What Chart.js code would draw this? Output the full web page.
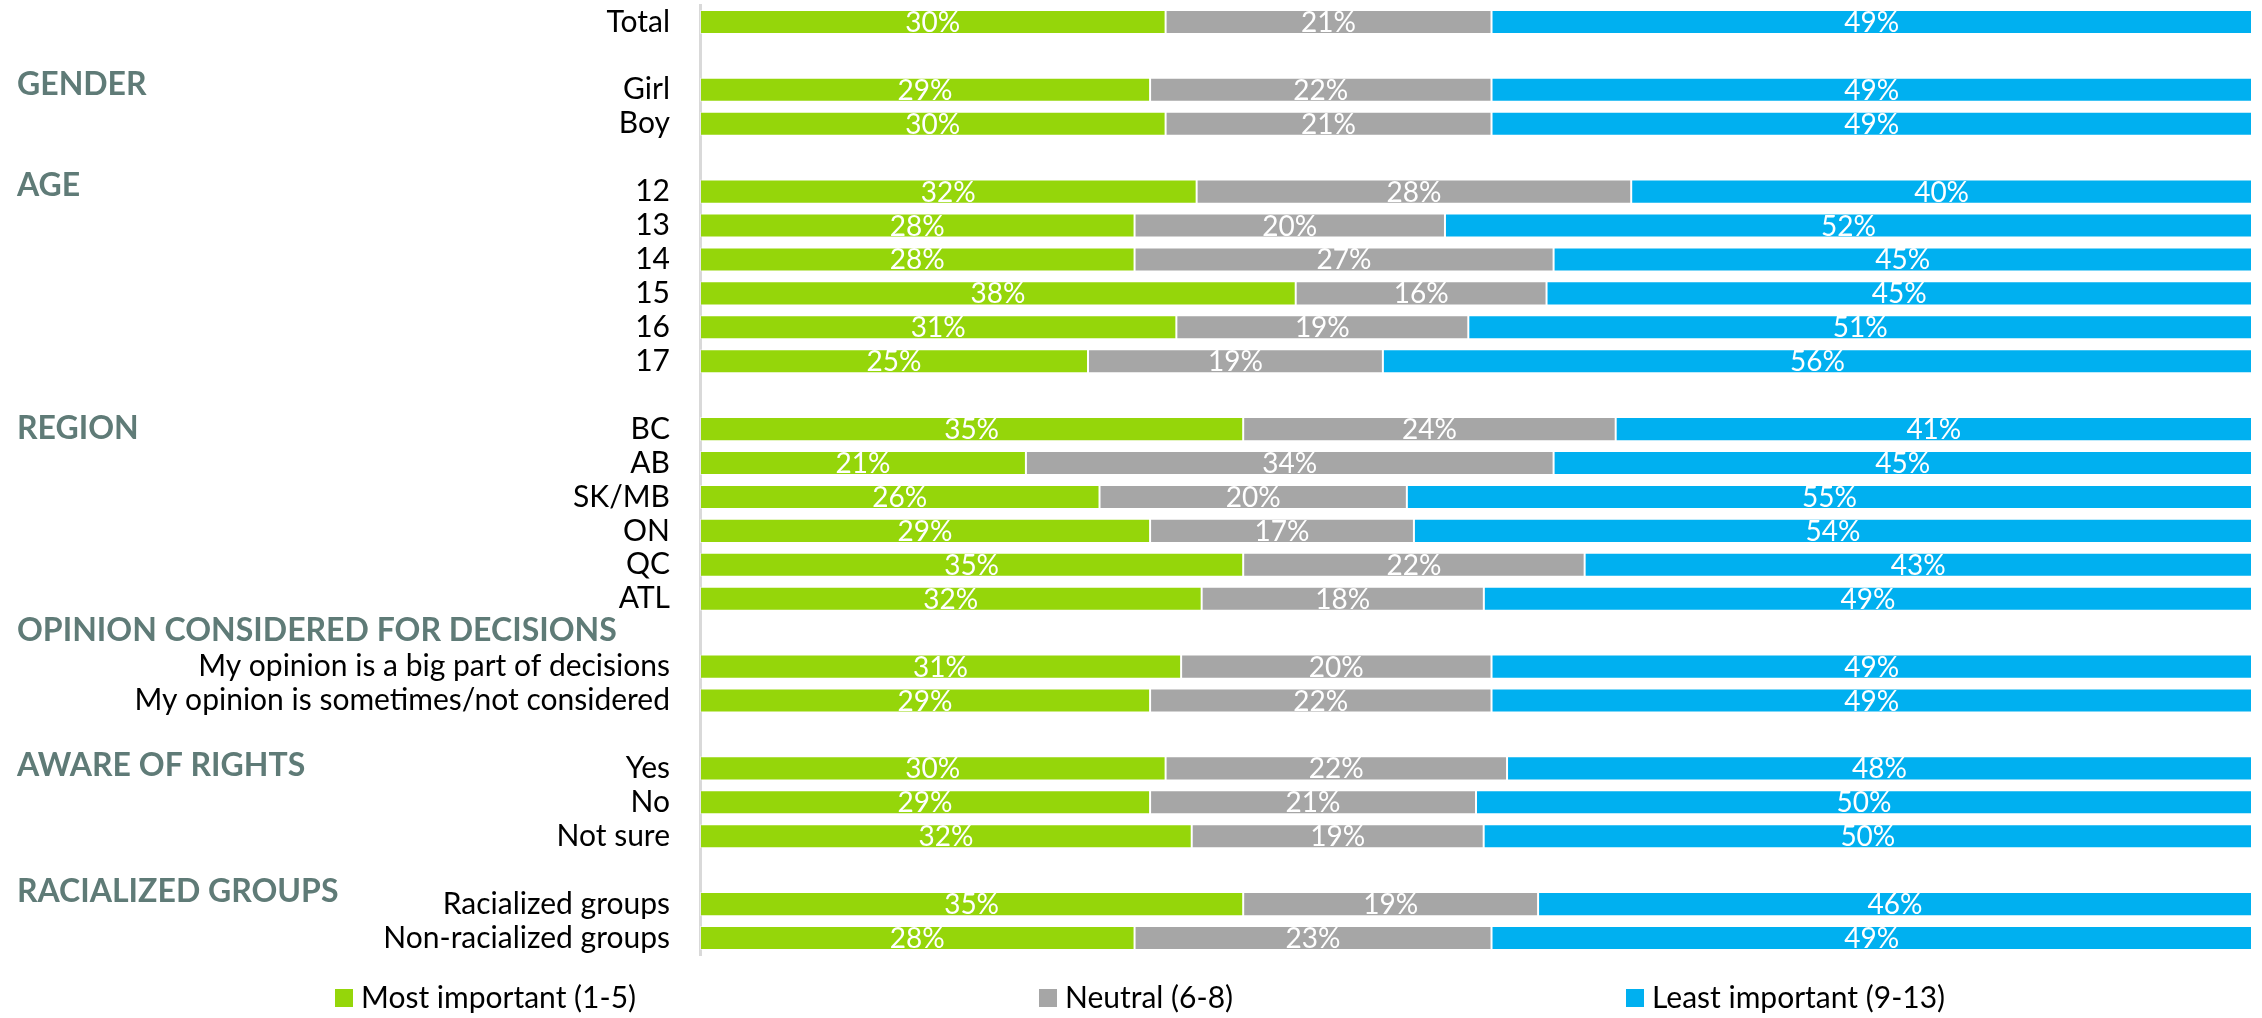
<!DOCTYPE html>
<html>
<head>
<meta charset="utf-8">
<script src="https://cdn.jsdelivr.net/npm/chart.js@4.4.0/dist/chart.umd.min.js"></script>
<style>
  html, body { margin: 0; padding: 0; background: #fff; }
  #wrap { width: 2262px; height: 1018px; position: relative; }
</style>
</head>
<body>
<div id="wrap"><canvas id="rankChart"></canvas></div>
<script>
// Categories (blank strings are spacer rows between sections)
const categories = ['Total', '', 'Girl', 'Boy', '', '12', '13', '14', '15', '16', '17', '',
    'BC', 'AB', 'SK/MB', 'ON', 'QC', 'ATL', '',
    'My opinion is a big part of decisions', 'My opinion is sometimes/not considered', '',
    'Yes', 'No', 'Not sure', '', 'Racialized groups', 'Non-racialized groups'];

const mostImportant = [30, null, 29, 30, null, 32, 28, 28, 38, 31, 25, null, 35, 21, 26, 29, 35, 32, null, 31, 29, null, 30, 29, 32, null, 35, 28];
const neutral = [21, null, 22, 21, null, 28, 20, 27, 16, 19, 19, null, 24, 34, 20, 17, 22, 18, null, 20, 22, null, 22, 21, 19, null, 19, 23];
const leastImportant = [49, null, 49, 49, null, 40, 52, 45, 45, 51, 56, null, 41, 45, 55, 54, 43, 49, null, 49, 49, null, 48, 50, 50, null, 46, 49];

const seriesNames = ['Most important (1-5)', 'Neutral (6-8)', 'Least important (9-13)'];
const seriesColors = ['#95d60a', '#a6a6a6', '#00b0f0'];

const sectionHeaders = ['GENDER', 'AGE', 'REGION', 'OPINION CONSIDERED FOR DECISIONS', 'AWARE OF RIGHTS', 'RACIALIZED GROUPS'];

const FONT = 'Lato, "Noto Sans", sans-serif';

// 100% stacked: share of each row total
const allSeries = [mostImportant, neutral, leastImportant];
const rowTotals = categories.map((c, i) => allSeries.reduce((s, arr) => s + (arr[i] || 0), 0));
function toShare(arr) {
    return arr.map((v, i) => v == null ? null : v / rowTotals[i] * 100);
}

// valeurs en % au centre des barres
const barLabels = {
    id: 'barLabels',
    afterDatasetsDraw(chart) {
        const ctx = chart.ctx;
        ctx.save();
        ctx.fillStyle = '#ffffff';
        ctx.font = '28px ' + FONT;
        ctx.textAlign = 'center';
        ctx.textBaseline = 'middle';
        chart.data.datasets.forEach((ds, di) => {
            const meta = chart.getDatasetMeta(di);
            meta.data.forEach((bar, i) => {
                const v = ds.rawValues[i];
                if (v == null) return;
                ctx.fillText(v + '%', (bar.x + bar.base) / 2, bar.y + 1);
            });
        });
        ctx.restore();
    }
};

// section titles on the left
const headers = {
    id: 'headers',
    afterDraw(chart, args, opts) {
        const ctx = chart.ctx;
        const y = chart.scales.y;
        ctx.save();
        ctx.fillStyle = '#5f7b77';
        ctx.font = 'bold 32px ' + FONT;
        ctx.textAlign = 'left';
        ctx.textBaseline = 'middle';
        sectionHeaders.forEach((h, i) => {
            ctx.fillText(h, 17, y.getPixelForValue(opts.rows[i]));
        });
        ctx.restore();
    }
};

// legend at the bottom
const bottomLegend = {
    id: 'bottomLegend',
    afterDraw(chart, args, opts) {
        const ctx = chart.ctx;
        ctx.save();
        ctx.font = '30px ' + FONT;
        ctx.textBaseline = 'middle';
        ctx.textAlign = 'left';
        chart.data.datasets.forEach((ds, i) => {
            const x = opts.xs[i];
            ctx.fillStyle = ds.backgroundColor;
            ctx.fillRect(x, opts.y - 9, 18, 18);
            ctx.fillStyle = '#000000';
            ctx.fillText(ds.label, x + 26, opts.y);
        });
        ctx.restore();
    }
};

const ctx = document.getElementById('rankChart').getContext('2d');
new Chart(ctx, {
    type: 'bar',
    data: {
        labels: categories,
        datasets: allSeries.map((arr, i) => ({
            label: seriesNames[i],
            data: toShare(arr),
            rawValues: arr,
            backgroundColor: seriesColors[i],
            borderColor: 'rgba(255,255,255,0.45)',
            borderWidth: 1,
            borderSkipped: false,
            categoryPercentage: 1,
            barPercentage: 0.71
        }))
    },
    options: {
        indexAxis: 'y',
        responsive: true,
        maintainAspectRatio: false,
        animation: false,
        layout: { padding: { top: 5, right: 10, bottom: 63, left: 0 } },
        scales: {
            x: { stacked: true, min: 0, max: 100, display: false },
            y: {
                stacked: true,
                grid: { display: false, drawTicks: false },
                border: { display: true, color: '#d9d9d9', width: 3 },
                ticks: {
                    color: '#000000',
                    padding: 30,
                    autoSkip: false,
                    font: { family: FONT, size: 30 }
                },
                afterFit(scale) {
                    scale.width = 700;
                    scale.paddingTop = 0;
                    scale.paddingBottom = 0;
                }
            }
        },
        plugins: {
            legend: { display: false },
            tooltip: { enabled: false },
            headers: { rows: [1.84, 4.82, 11.98, 17.93, 21.91, 25.64] },
            bottomLegend: { xs: [335, 1039, 1626], y: 998 }
        }
    },
    plugins: [barLabels, headers, bottomLegend]
});
</script>
</body>
</html>
